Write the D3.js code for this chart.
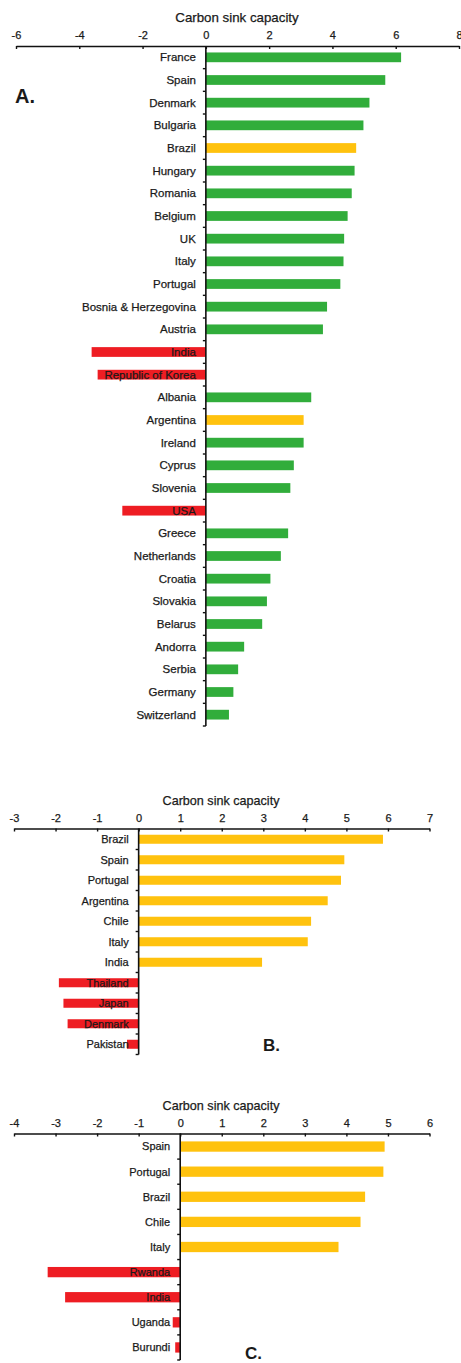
<!DOCTYPE html>
<html>
<head>
<meta charset="utf-8">
<script src="https://cdn.jsdelivr.net/npm/d3@7"></script>
<style>
  html, body { margin: 0; padding: 0; background: #fff; }
  svg { display: block; }
  text { font-family: "Liberation Sans", Arial, sans-serif; fill: #1a1a1a; }
  text.soft { stroke: #1a1a1a; stroke-width: 0.25px; }
</style>
</head>
<body>
<svg id="chart" width="461" height="1363"></svg>
<script>
// Panel A: countries ranked by carbon sink capacity
const aCountries = ["France", "Spain", "Denmark", "Bulgaria", "Brazil", "Hungary", "Romania", "Belgium", "UK", "Italy",
  "Portugal", "Bosnia & Herzegovina", "Austria", "India", "Republic of Korea", "Albania", "Argentina", "Ireland", "Cyprus",
  "Slovenia", "USA", "Greece", "Netherlands", "Croatia", "Slovakia", "Belarus", "Andorra", "Serbia", "Germany", "Switzerland"];
const aValues = [6.17, 5.67, 5.17, 4.98, 4.75, 4.70, 4.61, 4.48, 4.37, 4.35,
  4.25, 3.83, 3.70, -3.61, -3.42, 3.33, 3.09, 3.09, 2.78,
  2.67, -2.64, 2.60, 2.37, 2.04, 1.93, 1.78, 1.21, 1.02, 0.87, 0.73];
const aGroups = ["eu", "eu", "eu", "eu", "other", "eu", "eu", "eu", "eu", "eu",
  "eu", "eu", "eu", "neg", "neg", "eu", "other", "eu", "eu",
  "eu", "neg", "eu", "eu", "eu", "eu", "eu", "eu", "eu", "eu", "eu"];
const aTicks = [-6, -4, -2, 0, 2, 4, 6, 8];

// Panel B
const bCountries = ["Brazil", "Spain", "Portugal", "Argentina", "Chile", "Italy", "India", "Thailand", "Japan", "Denmark", "Pakistan"];
const bValues = [5.88, 4.95, 4.87, 4.55, 4.15, 4.07, 2.97, -1.92, -1.81, -1.71, -0.28];
const bGroups = ["other", "other", "other", "other", "other", "other", "other", "neg", "neg", "neg", "neg"];
const bTicks = [-3, -2, -1, 0, 1, 2, 3, 4, 5, 6, 7];

// Panel C
const cCountries = ["Spain", "Portugal", "Brazil", "Chile", "Italy", "Rwanda", "India", "Uganda", "Burundi"];
const cValues = [4.92, 4.89, 4.45, 4.34, 3.81, -3.19, -2.77, -0.18, -0.12];
const cGroups = ["other", "other", "other", "other", "other", "neg", "neg", "neg", "neg"];
const cTicks = [-4, -3, -2, -1, 0, 1, 2, 3, 4, 5, 6];

const axisTitle = "Carbon sink capacity";

const groupColor = d3.scaleOrdinal()
  .domain(["eu", "other", "neg"])
  .range(["#31ad3b", "#ffc20e", "#ee1d23"]);

const svg = d3.select("#chart");

function drawPanel(opt) {
  const { countries, values, groups, ticks, xRange, yRange, axisY, barFrac,
          labelSize, tickSize, titleSize, titleX, letter, letterX, letterY, letterSize } = opt;
  const g = svg.append("g");

  const x = d3.scaleLinear().domain([ticks[0], ticks[ticks.length - 1]]).range(xRange);
  const y = d3.scaleBand().domain(countries).range(yRange).padding(0);
  const bh = y.bandwidth() * barFrac;

  // bars
  g.selectAll("rect.bar")
    .data(countries)
    .join("rect")
    .attr("class", "bar")
    .attr("x", (d, i) => Math.min(x(0), x(values[i])))
    .attr("width", (d, i) => Math.abs(x(values[i]) - x(0)))
    .attr("y", d => y(d) + (y.bandwidth() - bh) / 2)
    .attr("height", bh)
    .attr("fill", (d, i) => groupColor(groups[i]));

  // top axis: ticks point down, labels above
  const ax = g.append("g")
    .attr("transform", `translate(0,${axisY})`)
    .call(d3.axisTop(x).tickValues(ticks).tickFormat(d => String(d))
      .tickSizeInner(-3).tickSizeOuter(0).tickPadding(7));
  ax.select(".domain").attr("stroke", "#111").attr("stroke-width", 1.6);
  ax.selectAll(".tick line").attr("stroke", "#111").attr("stroke-width", 1.4);
  ax.selectAll(".tick text").attr("class", "soft").attr("font-size", tickSize).attr("fill", "#1a1a1a")
    .attr("font-family", "Liberation Sans, Arial, sans-serif");

  // axis title
  g.append("text")
    .attr("class", "soft")
    .attr("x", titleX)
    .attr("y", axisY - 24)
    .attr("text-anchor", "middle")
    .attr("font-size", titleSize)
    .text(axisTitle);

  // vertical zero line with small left ticks at band edges
  const edges = countries.map(d => y(d)).concat([yRange[1]]).slice(1);
  g.append("line")
    .attr("x1", x(0)).attr("x2", x(0))
    .attr("y1", axisY).attr("y2", yRange[1])
    .attr("stroke", "#111").attr("stroke-width", 1.6);
  g.selectAll("line.ytick")
    .data(edges)
    .join("line")
    .attr("class", "ytick")
    .attr("x1", x(0) - 3).attr("x2", x(0))
    .attr("y1", d => d).attr("y2", d => d)
    .attr("stroke", "#111").attr("stroke-width", 1.4);

  // category labels, right-aligned left of zero
  g.selectAll("text.cat")
    .data(countries)
    .join("text")
    .attr("class", "cat soft")
    .attr("x", x(0) - 10)
    .attr("y", d => y(d) + y.bandwidth() / 2)
    .attr("dy", "0.35em")
    .attr("text-anchor", "end")
    .attr("font-size", labelSize)
    .text(d => d);

  // panel letter
  g.append("text")
    .attr("x", letterX)
    .attr("y", letterY)
    .attr("font-size", letterSize)
    .attr("font-weight", "bold")
    .attr("fill", "#111")
    .text(letter);
}

drawPanel({
  countries: aCountries, values: aValues, groups: aGroups, ticks: aTicks,
  xRange: [16, 459], yRange: [46, 726], axisY: 46, barFrac: 0.43,
  labelSize: 11.5, tickSize: 11, titleSize: 13.3, titleX: 237,
  letter: "A.", letterX: 15, letterY: 103, letterSize: 20
});

drawPanel({
  countries: bCountries, values: bValues, groups: bGroups, ticks: bTicks,
  xRange: [14, 429.5], yRange: [829, 1054.5], axisY: 828.5, barFrac: 0.44,
  labelSize: 11, tickSize: 11, titleSize: 12.6, titleX: 221,
  letter: "B.", letterX: 263, letterY: 1051, letterSize: 17
});

drawPanel({
  countries: cCountries, values: cValues, groups: cGroups, ticks: cTicks,
  xRange: [14, 429.5], yRange: [1134, 1360], axisY: 1133.5, barFrac: 0.41,
  labelSize: 11, tickSize: 11, titleSize: 12.6, titleX: 221,
  letter: "C.", letterX: 245, letterY: 1359, letterSize: 17
});
</script>
</body>
</html>
